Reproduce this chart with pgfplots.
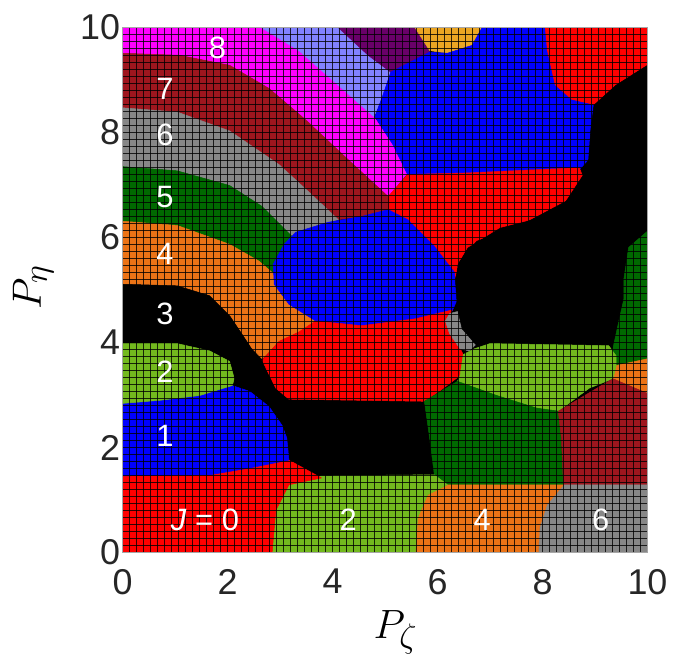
\documentclass[border=0pt]{standalone}
\usepackage{graphicx}
\usepackage{fontspec}
\setmainfont{Liberation Sans}
\usepackage{pgfplots}
\pgfplotsset{compat=1.18}
\definecolor{jred}{RGB}{255,0,0}
\definecolor{jblue}{RGB}{0,0,255}
\definecolor{jlgreen}{RGB}{115,185,30}
\definecolor{jorange}{RGB}{235,115,22}
\definecolor{jdgreen}{RGB}{0,105,0}
\definecolor{jgray}{RGB}{135,135,135}
\definecolor{jdred}{RGB}{158,22,30}
\definecolor{jmag}{RGB}{255,0,255}
\definecolor{jperi}{RGB}{130,130,255}
\definecolor{jpurple}{RGB}{105,0,105}
\definecolor{jgold}{RGB}{235,165,35}
\pgfplotsset{reg/.style={fill=#1, draw=#1, line width=0.5bp, line join=round, mark=none}}
\begin{document}
\begin{tikzpicture}
\begin{axis}[
  at={(0,0)}, anchor=south west,
  scale only axis, width=525bp, height=525bp,
  xmin=0, xmax=10, ymin=0, ymax=10, enlargelimits=false,
  xtick={0,2,...,10}, ytick={0,2,...,10},
  minor tick num=14,
  major tick length=0pt, minor tick length=0pt,
  grid=both,
  major grid style={black, line width=1.8bp, opacity=0.8},
  minor grid style={black, line width=1.8bp, opacity=0.8},
  axis on top,
  axis line style={gray!70, line width=0.6bp},
  /pgf/number format/assume math mode=true,
  ticklabel style={font=\fontsize{36}{40}\selectfont, text=black!85},
  xticklabel style={yshift=-13bp},
  yticklabel style={xshift=1bp},
  xlabel={\scalebox{1.65}{$P_\zeta$}}, ylabel={\scalebox{1.65}{$P_\eta$}},
  label style={font=\Huge},
  xlabel style={at={(axis description cs:0.52,-0.152)}, anchor=center},
  ylabel style={at={(axis description cs:-0.17,0.505)}, anchor=center, rotate=0},
]
% background
\addplot[reg=black] coordinates {(0,0)(10,0)(10,10)(0,10)} -- cycle;
% magenta (8)
\addplot[reg=jmag] coordinates {(0,10)(2.64,10)(3.36,9.56)(4.11,8.90)(4.79,8.30)(5.15,7.77)(5.43,7.23)(5.06,6.78)(4.30,7.48)(3.49,8.24)(2.79,8.84)(2.04,9.28)(1.09,9.47)(0,9.51)} -- cycle;
% periwinkle
\addplot[reg=jperi] coordinates {(2.64,10)(4.11,10)(4.68,9.47)(5.11,9.15)(4.96,8.71)(4.79,8.30)(4.11,8.90)(3.36,9.56)} -- cycle;
% purple
\addplot[reg=jpurple] coordinates {(4.11,10)(5.57,10)(5.85,9.53)(5.11,9.15)(4.68,9.47)} -- cycle;
% gold
\addplot[reg=jgold] coordinates {(5.57,10)(6.85,10)(6.66,9.66)(6.19,9.51)(5.85,9.56)} -- cycle;
% red top right
\addplot[reg=jred] coordinates {(8.04,10)(10,10)(10,9.28)(9.40,8.90)(8.98,8.52)(8.55,8.62)(8.23,8.90)(8.08,9.56)} -- cycle;
% upper blue
\addplot[reg=jblue] coordinates {(5.11,9.15)(5.85,9.53)(6.19,9.51)(6.66,9.66)(6.85,10)(8.04,10)(8.08,9.56)(8.23,8.90)(8.55,8.62)(8.98,8.52)(8.92,8.05)(8.87,7.48)(8.70,7.29)(6.57,7.23)(5.43,7.20)(5.15,7.77)(4.81,8.30)(4.96,8.71)} -- cycle;
% red upper middle
\addplot[reg=jred] coordinates {(5.06,6.78)(5.43,7.20)(6.57,7.23)(8.70,7.33)(8.83,7.01)(8.58,6.69)(7.94,6.38)(7.19,6.19)(6.57,5.81)(6.38,5.49)(6.34,5.17)(5.94,5.83)(5.43,6.34)(5.06,6.53)} -- cycle;
% dark red (7)
\addplot[reg=jdred] coordinates {(0,9.51)(1.09,9.47)(2.04,9.28)(2.79,8.84)(3.49,8.24)(4.30,7.48)(5.06,6.78)(5.06,6.53)(4.55,6.40)(4.11,6.34)(3.60,6.82)(2.98,7.39)(2.04,8.03)(1.04,8.39)(0,8.47)} -- cycle;
% gray (6)
\addplot[reg=jgray] coordinates {(0,8.47)(1.04,8.39)(2.04,8.03)(2.98,7.39)(3.60,6.82)(4.11,6.34)(3.30,6.10)(3.23,6.02)(2.66,6.59)(2.04,6.99)(1.04,7.27)(0,7.35)} -- cycle;
% dark green (5)
\addplot[reg=jdgreen] coordinates {(0,7.35)(1.04,7.27)(2.04,6.99)(2.66,6.59)(3.23,6.02)(3.08,5.87)(2.87,5.49)(2.89,5.30)(2.60,5.55)(2.04,5.87)(1.04,6.23)(0,6.31)} -- cycle;
% orange (4)
\addplot[reg=jorange] coordinates {(0,6.31)(1.04,6.23)(2.04,5.87)(2.60,5.55)(2.89,5.30)(2.89,5.11)(3.17,4.73)(3.68,4.41)(3.36,4.20)(2.98,4.02)(2.66,3.69)(2.42,3.94)(2.04,4.51)(1.66,4.89)(1.04,5.08)(0,5.11)} -- cycle;
% middle blue
\addplot[reg=jblue] coordinates {(3.30,6.10)(3.92,6.29)(4.55,6.40)(5.06,6.53)(5.43,6.34)(5.94,5.83)(6.32,5.34)(6.38,4.83)(6.28,4.60)(5.57,4.45)(4.55,4.32)(3.68,4.41)(3.17,4.73)(2.89,5.11)(2.87,5.49)(3.08,5.87)} -- cycle;
% black left (3)
\addplot[reg=black] coordinates {(0,5.11)(1.04,5.08)(1.66,4.89)(2.04,4.51)(2.42,3.94)(2.66,3.50)(2.92,3.13)(3.17,2.92)(3.60,2.88)(5.81,2.88)(5.85,2.18)(5.94,1.48)(3.79,1.46)(3.17,1.76)(3.13,2.18)(3.04,2.42)(2.79,2.78)(2.42,3.07)(2.09,3.18)(2.13,3.31)(2.04,3.69)(1.66,3.84)(1.04,3.98)(0,3.98)} -- cycle;
% red middle
\addplot[reg=jred] coordinates {(2.66,3.66)(2.98,4.02)(3.36,4.20)(3.68,4.41)(4.55,4.32)(5.57,4.45)(6.28,4.62)(6.19,4.45)(6.34,4.07)(6.49,3.77)(6.43,3.37)(6.06,3.09)(5.75,2.88)(3.17,2.92)(2.92,3.13)} -- cycle;
% gray small
\addplot[reg=jgray] coordinates {(6.23,4.55)(6.42,4.60)(6.60,4.36)(6.75,3.98)(6.60,3.84)(6.43,3.88)(6.23,4.17)(6.15,4.41)} -- cycle;
% black right
\addplot[reg=black] coordinates {(10,9.28)(10,6.12)(9.64,5.81)(9.55,5.21)(9.55,4.83)(9.45,4.39)(9.21,3.94)(8.26,3.92)(6.75,3.94)(6.47,4.26)(6.38,4.64)(6.34,5.21)(6.43,5.55)(6.75,5.93)(7.51,6.19)(8.45,6.69)(8.87,7.33)(8.92,8.05)(8.98,8.52)(9.40,8.90)} -- cycle;
% dark green right strip
\addplot[reg=jdgreen] coordinates {(10,6.12)(10,3.66)(9.40,3.54)(9.34,3.88)(9.45,4.39)(9.55,4.83)(9.55,5.21)(9.64,5.81)} -- cycle;
% orange small right
\addplot[reg=jorange] coordinates {(9.30,3.54)(10,3.69)(10,3.03)(9.34,3.31)} -- cycle;
% light green right middle
\addplot[reg=jlgreen] coordinates {(6.43,3.37)(6.49,3.77)(6.70,3.88)(7.00,3.98)(9.26,3.94)(9.40,3.75)(9.40,3.54)(9.34,3.31)(8.89,3.13)(8.30,2.69)(7.89,2.75)(7.13,2.99)(6.38,3.26)} -- cycle;
% dark green bottom middle
\addplot[reg=jdgreen] coordinates {(5.75,2.88)(6.38,3.26)(7.13,2.99)(7.89,2.75)(8.32,2.69)(8.40,1.29)(6.19,1.29)(5.94,1.48)(5.85,2.18)} -- cycle;
% dark red bottom right
\addplot[reg=jdred] coordinates {(8.30,2.69)(9.34,3.31)(10,3.03)(10,1.29)(8.40,1.29)(8.36,2.18)} -- cycle;
% gray bottom right (6)
\addplot[reg=jgray] coordinates {(8.40,1.29)(10,1.29)(10,0)(7.92,0)(7.94,0.47)(8.08,0.91)} -- cycle;
% orange bottom (4)
\addplot[reg=jorange] coordinates {(5.58,0)(5.62,0.66)(5.81,1.10)(6.19,1.29)(8.40,1.29)(8.08,0.91)(7.94,0.47)(7.92,0)} -- cycle;
% light green bottom (2)
\addplot[reg=jlgreen] coordinates {(2.85,0)(2.92,0.80)(3.17,1.29)(3.79,1.46)(5.94,1.48)(6.19,1.29)(5.81,1.10)(5.62,0.66)(5.58,0)} -- cycle;
% red bottom (J=0)
\addplot[reg=jred] coordinates {(0,0)(2.85,0)(2.92,0.80)(3.17,1.29)(3.79,1.42)(3.17,1.76)(2.42,1.61)(1.66,1.48)(0,1.46)} -- cycle;
% blue (1)
\addplot[reg=jblue] coordinates {(0,1.46)(1.66,1.48)(2.42,1.61)(3.17,1.76)(3.13,2.18)(3.04,2.42)(2.79,2.78)(2.42,3.07)(2.09,3.18)(1.47,2.99)(0.72,2.90)(0,2.84)} -- cycle;
% light green (2)
\addplot[reg=jlgreen] coordinates {(0,3.98)(1.04,3.98)(1.66,3.84)(2.04,3.64)(2.13,3.31)(2.09,3.18)(1.47,2.99)(0.72,2.90)(0,2.84)} -- cycle;
% label anchors
\coordinate (L8) at (axis cs:1.81,9.62);
\coordinate (L7) at (axis cs:0.81,8.84);
\coordinate (L6) at (axis cs:0.81,7.95);
\coordinate (L5) at (axis cs:0.81,6.78);
\coordinate (L4) at (axis cs:0.81,5.68);
\coordinate (L3) at (axis cs:0.81,4.55);
\coordinate (L2) at (axis cs:0.81,3.45);
\coordinate (L1) at (axis cs:0.81,2.22);
\coordinate (L0) at (axis cs:1.57,0.63);
\coordinate (B2) at (axis cs:4.30,0.63);
\coordinate (B4) at (axis cs:6.85,0.63);
\coordinate (B6) at (axis cs:9.11,0.63);
\end{axis}
\begin{scope}[every node/.style={text=white, font=\fontsize{31}{34}\selectfont}]
\node at (L8) {8};
\node at (L7) {7};
\node at (L6) {6};
\node at (L5) {5};
\node at (L4) {4};
\node at (L3) {3};
\node at (L2) {2};
\node at (L1) {1};
\node at (L0) {\textit{J} = 0};
\node at (B2) {2};
\node at (B4) {4};
\node at (B6) {6};
\end{scope}
\pgfresetboundingbox
\useasboundingbox (-122.5bp,-114.5bp) rectangle (557.5bp,552.5bp);
\end{tikzpicture}
\end{document}
